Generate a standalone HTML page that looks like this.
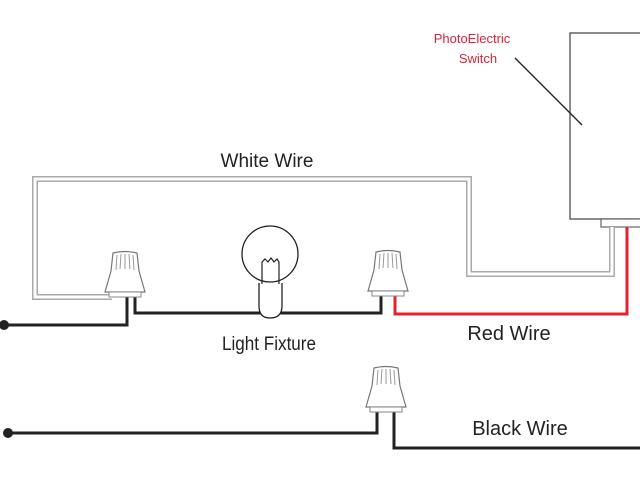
<!DOCTYPE html>
<html><head><style>html,body{margin:0;padding:0;background:#fff}svg{display:block}</style></head>
<body>
<svg width="640" height="480" viewBox="0 0 640 480" xmlns="http://www.w3.org/2000/svg" font-family="Liberation Sans, sans-serif">
<defs>
<g id="wn">
<path d="M-12,-44 Q0,-47 12,-44 L14,-26 L20,-5 L-20,-5 L-14,-26 Z" fill="#fff" stroke="#777" stroke-width="1.2"/>
<path d="M-8,-42 L-9,-27 M-4,-43 L-5,-28 M0,-43 L0,-28 M4,-43 L5,-28 M8,-42 L9,-27" stroke="#999" stroke-width="1"/>
<rect x="-16" y="-5" width="32" height="5" fill="#fff" stroke="#888" stroke-width="1"/>
</g>
</defs>
<!-- switch box -->
<rect x="570" y="33" width="80" height="186" fill="#fff" stroke="#666" stroke-width="1.5"/>
<rect x="601" y="219" width="45" height="8" fill="#fff" stroke="#666" stroke-width="1.2"/>
<line x1="515" y1="58" x2="582" y2="125" stroke="#222" stroke-width="1.3"/>
<text x="472" y="43" font-size="13" fill="#d9243a" text-anchor="middle">PhotoElectric</text>
<text x="478" y="63" font-size="13" fill="#d9243a" text-anchor="middle">Switch</text>
<!-- white wire -->
<path d="M112,297 L35,297 L35,179 L469,179 L469,274 L612,274 L612,227" fill="none" stroke="#aaa" stroke-width="6"/>
<path d="M112,297 L35,297 L35,179 L469,179 L469,274 L612,274 L612,227" fill="none" stroke="#fff" stroke-width="3"/>
<!-- red wire -->
<path d="M395,294 L395,314 L627,314 L627,227" fill="none" stroke="#e8202e" stroke-width="3"/>
<!-- black wires -->
<circle cx="4" cy="325" r="5" fill="#222"/>
<path d="M4,325 L127,325 L127,295" fill="none" stroke="#222" stroke-width="3"/>
<path d="M135,295 L135,313 L381,313 L381,294" fill="none" stroke="#222" stroke-width="3"/>
<circle cx="8" cy="433" r="5" fill="#222"/>
<path d="M8,433 L377,433 L377,410" fill="none" stroke="#222" stroke-width="3"/>
<path d="M394,410 L394,448 L640,448" fill="none" stroke="#222" stroke-width="3"/>
<!-- connectors -->
<use href="#wn" x="125" y="297"/>
<use href="#wn" x="388" y="296"/>
<use href="#wn" x="386" y="412"/>
<!-- bulb -->
<circle cx="270" cy="254" r="28" fill="#fff" stroke="#222" stroke-width="1.3"/>
<path d="M259,283 L259,306 Q259,318 270,318 Q282,318 282,306 L282,283" fill="#fff" stroke="#222" stroke-width="1.3"/>
<path d="M262,284 L262,262 L265,259 L268,262 L271,258 L274,262 L277,259 L279,262 L279,284" fill="none" stroke="#222" stroke-width="1.2"/>
<text x="267" y="167" font-size="19" fill="#222" text-anchor="middle">White Wire</text>
<text x="269" y="350" font-size="19" fill="#222" text-anchor="middle" textLength="94" lengthAdjust="spacingAndGlyphs">Light Fixture</text>
<text x="509" y="340" font-size="20" fill="#222" text-anchor="middle">Red Wire</text>
<text x="520" y="435" font-size="20" fill="#222" text-anchor="middle">Black Wire</text>
</svg>
</body></html>
